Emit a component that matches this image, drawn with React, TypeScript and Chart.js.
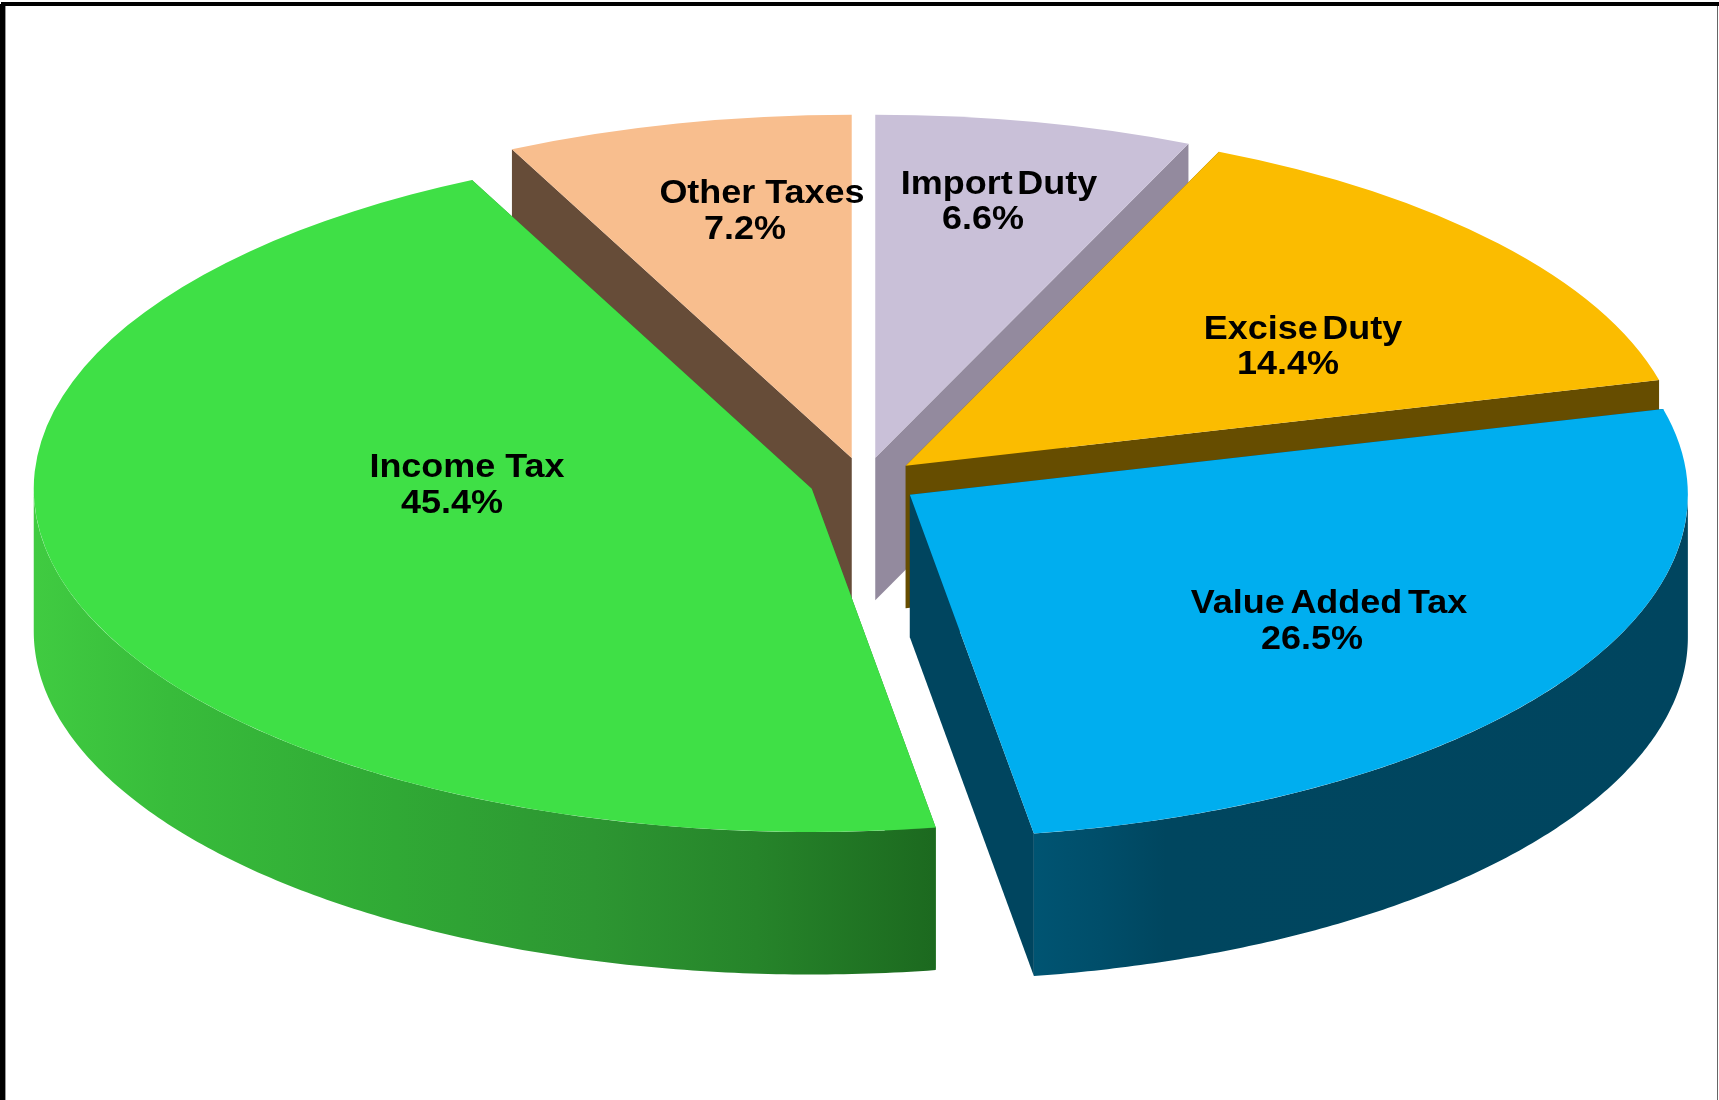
import React, { useEffect, useRef } from "react";
import { Chart, registerables } from "chart.js";

Chart.register(...registerables);

const categories = ["Import Duty", "Excise Duty", "Value Added Tax", "Income Tax", "Other Taxes"];
const shareValues = [6.6, 14.4, 26.5, 45.4, 7.2];

// styles, in the same order as the categories
const topColors = ["#C9C0D8", "#FBBC00", "#00AEEF", "#3FE046", "#F8BE8E"];
const wallColors = ["#938A9E", "#664D00", "#00455F", "#2C9030", "#664C38"];
const paintOrder = [4, 0, 1, 3, 2];
const labelWordSpacing = [-5, -5, -4, 0, 0];
const labelCentres = [
  [[999, 185], [983, 220]],
  [[1303, 330], [1288, 365]],
  [[1329, 604], [1312, 640]],
  [[467, 468], [452, 504]],
  [[762, 194], [745, 230]],
];

const WIDTH = 1719;
const HEIGHT = 1100;
const PIE_X = 864;
const PIE_Y = 481.5;
const RADIUS = 778;
const SQUASH = 343.2 / 778;
const DEPTH = 142.5;
const EXPLODE = 54.8;

const sidePaint = (ctx: CanvasRenderingContext2D, idx: number) => {
  if (idx === 3) {
    const g = ctx.createLinearGradient(34, 0, 937, 0);
    g.addColorStop(0, "#40CB41");
    g.addColorStop(0.15, "#38BC3B");
    g.addColorStop(0.4, "#30A935");
    g.addColorStop(0.62, "#2D9632");
    g.addColorStop(0.8, "#26842A");
    g.addColorStop(1, "#1C691F");
    return g;
  }
  if (idx === 2) {
    const g = ctx.createLinearGradient(1035, 0, 1688, 0);
    g.addColorStop(0, "#005472");
    g.addColorStop(0.1, "#004E6A");
    g.addColorStop(0.2, "#00465F");
    g.addColorStop(1, "#00455F");
    return g;
  }
  return wallColors[idx];
};

const pie3d = {
  id: "pie3d",
  beforeDatasetDraw(chart: any, args: any) {
    const ctx: CanvasRenderingContext2D = chart.ctx;
    const arcs = args.meta.data;
    const project = (x: number, y: number, drop = 0): [number, number] => [
      PIE_X + x,
      PIE_Y + y * SQUASH + drop,
    ];
    paintOrder.forEach((i) => {
      const arc = arcs[i];
      const { x, y, startAngle, endAngle, outerRadius } = arc.getProps(
        ["x", "y", "startAngle", "endAngle", "outerRadius"],
        true
      );
      const mid = (startAngle + endAngle) / 2;
      const ox = Math.cos(mid) * EXPLODE;
      const oy = Math.sin(mid) * EXPLODE;
      const rim = (a: number): [number, number] => [
        ox + Math.cos(a) * outerRadius,
        oy + Math.sin(a) * outerRadius,
      ];

      // radial cut faces
      ctx.fillStyle = wallColors[i];
      [startAngle, endAngle].forEach((a: number) => {
        const [rx, ry] = rim(a);
        const pts = [
          project(ox, oy),
          project(rx, ry),
          project(rx, ry, DEPTH),
          project(ox, oy, DEPTH),
        ];
        ctx.beginPath();
        pts.forEach(([px, py], k) => (k ? ctx.lineTo(px, py) : ctx.moveTo(px, py)));
        ctx.closePath();
        ctx.fill();
      });

      // curved outer face (only the part turned to the viewer)
      const lo = Math.max(startAngle, 0);
      const hi = Math.min(endAngle, Math.PI);
      if (hi > lo) {
        const steps = 160;
        ctx.beginPath();
        for (let k = 0; k <= steps; k++) {
          const [rx, ry] = rim(lo + ((hi - lo) * k) / steps);
          const [px, py] = project(rx, ry);
          if (k) ctx.lineTo(px, py);
          else ctx.moveTo(px, py);
        }
        for (let k = steps; k >= 0; k--) {
          const [rx, ry] = rim(lo + ((hi - lo) * k) / steps);
          const [px, py] = project(rx, ry, DEPTH);
          ctx.lineTo(px, py);
        }
        ctx.closePath();
        ctx.fillStyle = sidePaint(ctx, i);
        ctx.fill();
      }

      // top face: the library's own arc element, seen at an angle
      ctx.save();
      ctx.translate(PIE_X, PIE_Y);
      ctx.scale(1, SQUASH);
      ctx.translate(ox - x, oy - y);
      arc.draw(ctx);
      ctx.restore();
    });
    return false;
  },
  afterDraw(chart: any) {
    const ctx: CanvasRenderingContext2D = chart.ctx;
    ctx.save();
    // labels
    ctx.fillStyle = "#000000";
    ctx.textAlign = "center";
    ctx.textBaseline = "middle";
    ctx.font = 'bold 33px "Liberation Sans"';
    const stretch = 1.09;
    categories.forEach((name, i) => {
      const [[nx, ny], [vx, vy]] = labelCentres[i];
      ctx.save();
      ctx.scale(stretch, 1);
      (ctx as any).wordSpacing = `${labelWordSpacing[i]}px`;
      ctx.fillText(name, nx / stretch, ny);
      (ctx as any).wordSpacing = "0px";
      ctx.fillText(`${shareValues[i].toFixed(1)}%`, vx / stretch, vy);
      ctx.restore();
    });
    // frame
    ctx.fillStyle = "#000000";
    ctx.fillRect(1, 2, WIDTH - 1, 4);
    ctx.fillRect(0, 4, 5, HEIGHT - 4);
    ctx.fillStyle = "#999999";
    ctx.fillRect(5, 6, 1, HEIGHT - 6);
    ctx.fillStyle = "#666666";
    ctx.fillRect(WIDTH - 2, 6, 1, HEIGHT - 6);
    ctx.restore();
  },
};

export default function App() {
  const ref = useRef<HTMLCanvasElement>(null);
  useEffect(() => {
    const chart = new Chart(ref.current as HTMLCanvasElement, {
      type: "pie",
      data: {
        labels: categories,
        datasets: [
          {
            data: shareValues,
            backgroundColor: topColors,
            borderWidth: 0,
            clip: false as any,
          },
        ],
      },
      options: {
        animation: false,
        responsive: false,
        rotation: 0,
        radius: RADIUS,
        plugins: { legend: { display: false }, tooltip: { enabled: false } },
      },
      plugins: [pie3d],
    });
    return () => chart.destroy();
  }, []);
  return (
    <div style={{ position: "absolute", left: 0, top: 0, width: WIDTH, height: HEIGHT, background: "#fff" }}>
      <canvas ref={ref} width={WIDTH} height={HEIGHT} style={{ display: "block" }} />
    </div>
  );
}
